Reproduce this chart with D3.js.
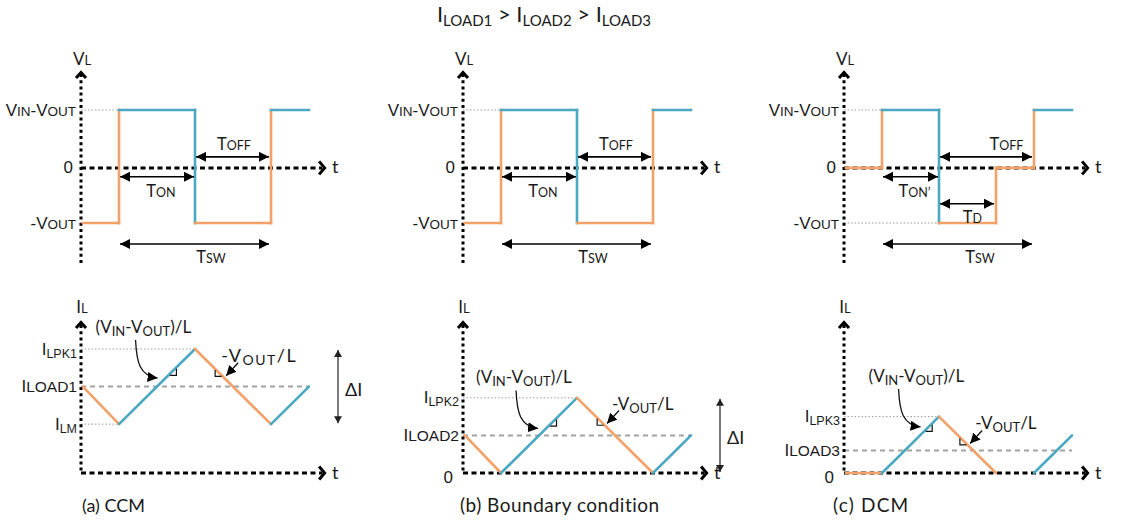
<!DOCTYPE html>
<html>
<head>
<meta charset="utf-8">
<script src="https://cdn.jsdelivr.net/npm/d3@7"></script>
<style>
  body { margin: 0; background: #fff; }
  svg { display: block; font-family: Lato, "Open Sans", sans-serif; }
</style>
</head>
<body>
<svg id="chart" width="1122" height="525"></svg>
<script>
// ---- operating modes (one column each) ----
const modes = ["(a) CCM", "(b) Boundary condition", "(c) DCM"];

// Time runs in quarters of a switching period.
const tOn     = [1, 1, 1];        // high-side switch turns on
const tOff    = [3, 3, 2.5];      // high-side switch turns off
const tZero   = [null, null, 4];  // inductor current reaches zero (DCM only)
const tNextOn = [5, 5, 5];        // next turn-on
const tEndWave = 6;

// Inductor voltage, normalised: VIN-VOUT = 1.05, -VOUT = -1
const VH = 1.05, VLO = -1;
const vlTimes = [
  [0.05, 1, 1, 3, 3, 5, 5, 6],
  [0.05, 1, 1, 3, 3, 5, 5, 6],
  [0.05, 1, 1, 2.5, 2.5, 4, 4, 5, 5, 6]
];
const vlValues = [
  [VLO, VLO, VH, VH, VLO, VLO, VH, VH],
  [VLO, VLO, VH, VH, VLO, VLO, VH, VH],
  [0, 0, VH, VH, VLO, VLO, 0, 0, VH, VH]
];

// Inductor current (null breaks the trace)
const ilTimes = [
  [0.05, 1, 3, 5, 6],
  [0.05, 1, 3, 5, 6],
  [0.05, 1, 2.5, 4, null, 5, 6]
];
const ilValues = [
  [2.3, 1.3, 3.3, 1.3, 2.3],
  [1.0, 0, 2.0, 0, 1.0],
  [0, 0, 1.5, 0, null, 0, 1.0]
];
const iPeak   = [3.3, 2.0, 1.5];
const iLoad   = [2.3, 1.0, 0.6];
const iValley = [1.3, 0, 0];

// Text. {..} = small capitals on the baseline, _{..} = lowered subscript
const vlLevels      = [VH, 0, VLO];
const vlLevelLabels = ["V{IN}-V{OUT}", "0", "-V{OUT}"];
const peakLabels    = ["I_{LPK1}", "I_{LPK2}", "I_{LPK3}"];
const loadLabels    = ["I{LOAD1}", "I{LOAD2}", "I{LOAD3}"];
const valleyLabels  = ["I_{LM}", "0", "0"];
const onLabels      = ["T{ON}", "T{ON}", "T{ON’}"];
const titleText     = "I_{LOAD1} > I_{LOAD2} > I_{LOAD3}";

// ---- layout ----
const axisX = [81, 463, 844];
const unitPx = 38;
const tMax = 6.45;
const BLUE = "#4BA8C2", ORANGE = "#F2A168";
const INK = "#1a1a1a";
const captionStyle = [
  { dx: 1, size: 18, spacing: null },
  { dx: -3, size: 19, spacing: 0.5 },
  { dx: -11, size: 19, spacing: 1.2 }
];

const svg = d3.select("#chart");
const defs = svg.append("defs");
defs.append("marker").attr("id", "ah")
  .attr("viewBox", "-10 -5 10 10").attr("refX", 0).attr("refY", 0)
  .attr("markerWidth", 10).attr("markerHeight", 10)
  .attr("markerUnits", "userSpaceOnUse").attr("orient", "auto-start-reverse")
  .append("path").attr("d", "M-10,-5L0,0L-10,5Z").attr("fill", "#000");
defs.append("marker").attr("id", "ahs")
  .attr("viewBox", "-7 -4 7 8").attr("refX", 0).attr("refY", 0)
  .attr("markerWidth", 7).attr("markerHeight", 8)
  .attr("markerUnits", "userSpaceOnUse").attr("orient", "auto-start-reverse")
  .append("path").attr("d", "M-7,-4L0,0L-7,4Z").attr("fill", "#222");

// rich text helper
function rich(g, x, y, spec, o = {}) {
  const size = o.size || 16, small = o.small || 12, sub = o.sub == null ? 3 : o.sub;
  const t = g.append("text").attr("x", x).attr("y", y)
    .attr("text-anchor", o.anchor || "start").attr("font-size", size).attr("fill", o.fill || INK);
  if (o.spacing) t.attr("letter-spacing", o.spacing);
  const re = /(_\{[^}]*\}|\{[^}]*\}|[^_{]+)/g;
  let m, shift = 0;
  while ((m = re.exec(spec))) {
    let s = m[0], fs = size, dy = 0;
    if (s.startsWith("_{")) { s = s.slice(2, -1); fs = small; dy = sub; }
    else if (s.startsWith("{")) { s = s.slice(1, -1); fs = small; }
    t.append("tspan").attr("font-size", fs).attr("dy", dy - shift).text(s);
    shift = dy;
  }
  return t;
}

function dottedV(g, x, y0, y1) {
  g.append("line").attr("x1", x).attr("x2", x).attr("y1", y0).attr("y2", y1)
    .attr("stroke", "#000").attr("stroke-width", 3).attr("stroke-dasharray", "3,3.2");
}
function dashedH(g, x0, x1, y) {
  g.append("line").attr("x1", x0).attr("x2", x1).attr("y1", y).attr("y2", y)
    .attr("stroke", "#000").attr("stroke-width", 3).attr("stroke-dasharray", "5,3.5");
}
function chevronUp(g, x, y) {
  g.append("path").attr("d", `M${x - 5},${y + 7}L${x},${y + 1.5}L${x + 5},${y + 7}`)
    .attr("fill", "none").attr("stroke", "#000").attr("stroke-width", 3);
}
function chevronRight(g, x, y) {
  g.append("path").attr("d", `M${x - 7},${y - 6.5}L${x - 1.5},${y}L${x - 7},${y + 6.5}`)
    .attr("fill", "none").attr("stroke", "#000").attr("stroke-width", 3);
}
function refLine(g, x0, x1, y) {
  g.append("line").attr("x1", x0).attr("x2", x1).attr("y1", y).attr("y2", y)
    .attr("stroke", "#9a9a9a").attr("stroke-width", 1).attr("stroke-dasharray", "1.5,2");
}
function dimArrow(g, x0, x1, y, both = true) {
  g.append("line").attr("x1", x0).attr("x2", x1).attr("y1", y).attr("y2", y)
    .attr("stroke", "#000").attr("stroke-width", 1.6)
    .attr("marker-start", both ? "url(#ah)" : null).attr("marker-end", "url(#ah)");
}

// title
rich(svg, 544, 22, titleText, { size: 22, small: 15, sub: 4, anchor: "middle" });

const vScale = d3.scaleLinear().domain([VLO, VH]).range([223, 110]);
const iScale = d3.scaleLinear().domain([0, 3.3]).range([473, 349]);
const seg = d3.line();

modes.forEach((mode, k) => {
  const ax = axisX[k];
  const x = d3.scaleLinear().domain([0, tMax]).range([ax, ax + tMax * unitPx]);
  const xEnd = x(tMax);

  // ================= inductor voltage =================
  const top = svg.append("g");
  const y0 = vScale(0);

  // reference lines to the levels
  refLine(top, ax, x(tOn[k]), vScale(VH));
  if (k === 2) refLine(top, ax, x(tOff[k]), vScale(VLO));

  dottedV(top, ax, 74, 263);
  chevronUp(top, ax, 71);
  dashedH(top, ax, xEnd - 4, y0);
  chevronRight(top, xEnd, y0);
  rich(top, xEnd + 6, y0 + 5, "t", { size: 18 });
  rich(top, ax + 1, 65, "V{L}", { size: 17, small: 13, anchor: "middle" });

  // level labels via a left axis
  const vAxis = top.append("g").attr("transform", `translate(${ax},0)`)
    .call(d3.axisLeft(vScale).tickValues(vlLevels).tickSize(0).tickFormat(""));
  vAxis.select(".domain").remove();
  vAxis.selectAll(".tick").each(function (d, i) {
    const isZero = vlLevelLabels[i] === "0";
    rich(d3.select(this), isZero ? -8 : -5, 5, vlLevelLabels[i], { size: 17, small: 13.5, anchor: "end" });
  });

  // waveform
  const vt = vlTimes[k], vv = vlValues[k];
  for (let i = 0; i < vt.length - 1; i++) {
    top.append("path")
      .attr("d", seg([[x(vt[i]), vScale(vv[i])], [x(vt[i + 1]), vScale(vv[i + 1])]]))
      .attr("fill", "none")
      .attr("stroke", vv[i] === VH ? BLUE : ORANGE)
      .attr("stroke-width", 2.6).attr("stroke-linecap", "square");
  }

  // timing dimension arrows
  const yOffA = vScale(0.2), yOnA = vScale(-0.16), ySwA = vScale(-1.38), yDA = vScale(-0.65);
  const tOpt = { size: 16.5, small: 12.5, anchor: "middle" };
  dimArrow(top, x(tOff[k]) + 1, x(tNextOn[k]) - 2, yOffA);
  rich(top, (x(tOff[k]) + x(tNextOn[k])) / 2 + (k === 2 ? 20 : 1), yOffA - 7, "T{OFF}", tOpt);
  dimArrow(top, x(tOn[k]) + 1, x(tOff[k]) - 1, yOnA);
  rich(top, (x(tOn[k]) + x(tOff[k])) / 2 + 4, yOnA + 20, onLabels[k], tOpt);
  dimArrow(top, x(tOn[k]) + 1, x(tNextOn[k]) - 2, ySwA);
  rich(top, (x(tOn[k]) + x(tNextOn[k])) / 2 + (k === 2 ? 22 : 16), ySwA + 19, "T{SW}", tOpt);
  if (tZero[k] != null) {
    dimArrow(top, x(tOff[k]) + 1, x(tZero[k]) - 2, yDA);
    rich(top, (x(tOff[k]) + x(tZero[k])) / 2 + 5, yDA + 19, "T{D}", tOpt);
  }

  // ================= inductor current =================
  const bot = svg.append("g");
  const yZero = iScale(0);

  refLine(bot, ax, x(tOff[k]), iScale(iPeak[k]));
  if (iValley[k] > 0) refLine(bot, ax, x(tOn[k]), iScale(iValley[k]));
  bot.append("line").attr("x1", ax).attr("x2", x(tEndWave)).attr("y1", iScale(iLoad[k])).attr("y2", iScale(iLoad[k]))
    .attr("stroke", "#a3a3a3").attr("stroke-width", 2).attr("stroke-dasharray", "5,4");

  dottedV(bot, ax, 325, yZero);
  chevronUp(bot, ax, 321);
  dashedH(bot, ax, xEnd - 4, yZero);
  chevronRight(bot, xEnd, yZero);
  rich(bot, xEnd + 6, yZero + 6, "t", { size: 18 });
  rich(bot, ax + 1, 313, "I{L}", { size: 17, small: 13, anchor: "middle" });

  const iTicks = [iPeak[k], iLoad[k], iValley[k]];
  const iTickLabels = [peakLabels[k], loadLabels[k], valleyLabels[k]];
  const iAxis = bot.append("g").attr("transform", `translate(${ax},0)`)
    .call(d3.axisLeft(iScale).tickValues(iTicks).tickSize(0).tickFormat(""));
  iAxis.select(".domain").remove();
  iAxis.selectAll(".tick").each(function (d, i) {
    const lbl = iTickLabels[i];
    const isZero = lbl === "0";
    const isLoad = i === 1;
    rich(d3.select(this), isZero ? -10 : -4, isZero ? 9 : 5, lbl,
      { size: 17, small: isLoad ? 15.5 : 12.5, anchor: "end" });
  });

  // current waveform
  const it = ilTimes[k], iv = ilValues[k];
  for (let i = 0; i < it.length - 1; i++) {
    if (it[i] == null || it[i + 1] == null) continue;
    bot.append("path")
      .attr("d", seg([[x(it[i]), iScale(iv[i])], [x(it[i + 1]), iScale(iv[i + 1])]]))
      .attr("fill", "none")
      .attr("stroke", iv[i + 1] > iv[i] ? BLUE : ORANGE)
      .attr("stroke-width", 2.6).attr("stroke-linecap", "round");
  }

  // slope annotations
  const riseAt = (t) => [x(t), iScale(iValley[k] + (t - tOn[k]))];
  const fallAt = (t) => [x(t), iScale(iPeak[k] - (t - tOff[k]))];
  const markS = 6.5;
  const riseMarkT = [2.34, 2.29, 2.15][k];
  const fallMarkT = [3.53, 3.53, 3.05][k];
  const [rx, ry] = riseAt(riseMarkT);
  bot.append("path").attr("d", `M${rx},${ry + 1.5}H${rx + markS}V${ry + 1.5 - markS}`)
    .attr("fill", "none").attr("stroke", "#111").attr("stroke-width", 1.2);
  const [fx, fy] = fallAt(fallMarkT);
  bot.append("path").attr("d", `M${fx},${fy + 1}V${fy + 1 + markS}H${fx + markS}`)
    .attr("fill", "none").attr("stroke", "#111").attr("stroke-width", 1.2);

  // curved arrow to the rising slope
  const [tx, ty] = riseAt([2.12, 2.08, 2.12][k]);
  const tipX = tx - 4, tipY = ty - 4;
  const sx = tipX - 22, sy = tipY - 38;
  bot.append("path")
    .attr("d", `M${sx},${sy}C${sx + 1},${sy + 22} ${sx + 4},${tipY - 2} ${tipX},${tipY}`)
    .attr("fill", "none").attr("stroke", "#111").attr("stroke-width", 1.3)
    .attr("marker-end", "url(#ah)");
  rich(bot, tipX - 62 + (k === 2 ? 10 : 0), tipY - 45, "(V_{IN}-V_{OUT})/L", { size: 17, small: 13, sub: 3 });

  // straight arrow to the falling slope
  const [gx, gy] = fallAt([3.82, 3.79, 3.32][k]);
  const fTipX = gx, fTipY = gy - 4;
  bot.append("line").attr("x1", fTipX + 12).attr("y1", fTipY - 13).attr("x2", fTipX).attr("y2", fTipY)
    .attr("stroke", "#111").attr("stroke-width", 1.3).attr("marker-end", "url(#ah)");
  rich(bot, fTipX + (k === 0 ? -5 : 5), fTipY - 14, "-V_{OUT}/L",
    { size: k === 0 ? 18 : 17, small: k === 0 ? 14 : 13, sub: 3, spacing: k === 0 ? 1.5 : null });

  // ripple ΔI
  if (k < 2) {
    const dx = ax + 257;
    const yA = iScale(iPeak[k]), yB = iScale(iValley[k]);
    bot.append("line").attr("x1", dx).attr("x2", dx).attr("y1", yA + 1).attr("y2", yB - 1)
      .attr("stroke", "#222").attr("stroke-width", 1.2)
      .attr("marker-start", "url(#ahs)").attr("marker-end", "url(#ahs)");
    rich(bot, dx + 7, (yA + yB) / 2 + 9, "ΔI", { size: 18 });
  }

  // mode caption
  const cs = captionStyle[k];
  rich(svg, ax + cs.dx, 512, mode, { size: cs.size, spacing: cs.spacing });
});
</script>
</body>
</html>
